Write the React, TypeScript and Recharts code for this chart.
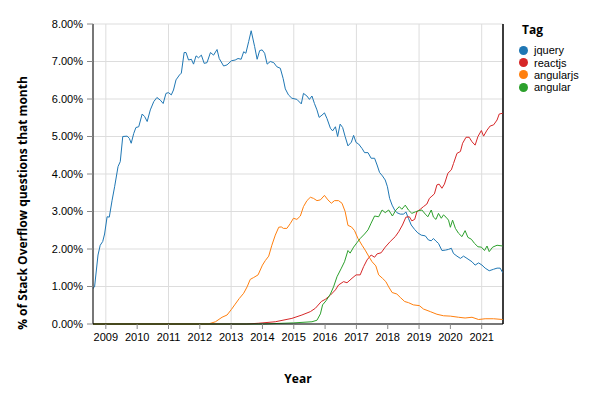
import React from 'react';
import { LineChart, Line, XAxis, YAxis, CartesianGrid, ReferenceLine } from 'recharts';

// [year, % of questions]
const jquery: [number, number][] = [
  [2008.59, 0.95], [2008.64, 0.99], [2008.75, 1.84], [2008.82, 2.1], [2008.9, 2.2], [2008.96, 2.4],
  [2009.04, 2.86], [2009.11, 2.85], [2009.2, 3.3], [2009.28, 3.66], [2009.39, 4.2], [2009.46, 4.33],
  [2009.54, 5.0], [2009.68, 5.01], [2009.75, 4.95], [2009.81, 4.82], [2009.89, 5.08], [2009.96, 5.24],
  [2010.05, 5.26], [2010.16, 5.6], [2010.24, 5.53], [2010.32, 5.4], [2010.42, 5.71], [2010.53, 5.93],
  [2010.63, 6.04], [2010.74, 5.97], [2010.83, 5.88], [2010.92, 6.15], [2011.0, 6.17], [2011.09, 6.11],
  [2011.16, 6.24], [2011.24, 6.51], [2011.35, 6.64], [2011.41, 6.69], [2011.5, 7.24], [2011.56, 7.24],
  [2011.64, 7.04], [2011.73, 7.06], [2011.8, 6.93], [2011.88, 7.15], [2011.96, 7.1], [2012.05, 7.17],
  [2012.14, 6.95], [2012.23, 6.97], [2012.34, 7.24], [2012.44, 7.17], [2012.55, 7.32], [2012.62, 7.08],
  [2012.76, 6.88], [2012.87, 6.91], [2013.01, 7.02], [2013.13, 7.04], [2013.22, 7.08], [2013.32, 7.06],
  [2013.4, 7.26], [2013.47, 7.22], [2013.56, 7.53], [2013.64, 7.82], [2013.75, 7.4], [2013.83, 7.06],
  [2013.91, 7.29], [2013.99, 7.31], [2014.07, 7.22], [2014.15, 6.93], [2014.25, 7.0], [2014.36, 6.97],
  [2014.46, 6.86], [2014.57, 6.82], [2014.66, 6.55], [2014.73, 6.27], [2014.83, 6.11], [2014.94, 6.02],
  [2015.1, 5.99], [2015.24, 5.87], [2015.31, 6.15], [2015.42, 6.08], [2015.5, 5.99], [2015.58, 6.08],
  [2015.66, 5.88], [2015.74, 5.71], [2015.81, 5.51], [2015.9, 5.57], [2015.98, 5.63], [2016.06, 5.48],
  [2016.17, 5.22], [2016.24, 5.15], [2016.33, 5.26], [2016.4, 5.0], [2016.48, 5.33], [2016.56, 5.24],
  [2016.64, 5.0], [2016.73, 4.75], [2016.84, 4.85], [2016.91, 5.03], [2016.99, 4.84], [2017.07, 4.8],
  [2017.18, 4.68], [2017.26, 4.57], [2017.37, 4.57], [2017.47, 4.42], [2017.58, 4.42], [2017.66, 4.24],
  [2017.74, 4.04], [2017.83, 3.95], [2017.92, 3.84], [2017.99, 3.66], [2018.06, 3.35], [2018.14, 3.17],
  [2018.22, 3.04], [2018.29, 2.97], [2018.4, 2.93], [2018.51, 2.93], [2018.58, 2.99], [2018.66, 2.82],
  [2018.75, 2.64], [2018.86, 2.52], [2018.96, 2.43], [2019.07, 2.37], [2019.2, 2.35], [2019.3, 2.24],
  [2019.39, 2.22], [2019.46, 2.28], [2019.54, 2.21], [2019.62, 2.15], [2019.73, 1.96], [2019.84, 1.97],
  [2019.94, 1.99], [2020.03, 2.02], [2020.1, 1.88], [2020.21, 1.81], [2020.32, 1.75], [2020.42, 1.81],
  [2020.53, 1.75], [2020.69, 1.66], [2020.79, 1.57], [2020.9, 1.63], [2021.01, 1.57], [2021.11, 1.49],
  [2021.24, 1.42], [2021.38, 1.46], [2021.49, 1.49], [2021.59, 1.49], [2021.67, 1.37],
];

const reactjs: [number, number][] = [
  [2008.59, 0], [2013.5, 0], [2013.87, 0.02], [2014.41, 0.06], [2014.94, 0.15], [2015.26, 0.24],
  [2015.53, 0.33], [2015.69, 0.42], [2015.88, 0.6], [2016.01, 0.66], [2016.17, 0.77], [2016.33, 0.91],
  [2016.43, 1.04], [2016.59, 1.13], [2016.7, 1.1], [2016.86, 1.22], [2016.99, 1.31], [2017.12, 1.31],
  [2017.23, 1.53], [2017.34, 1.71], [2017.47, 1.84], [2017.58, 1.78], [2017.66, 1.87], [2017.79, 1.9],
  [2017.92, 2.05], [2018.08, 2.2], [2018.24, 2.33], [2018.35, 2.46], [2018.47, 2.64], [2018.58, 2.85],
  [2018.69, 2.86], [2018.77, 2.75], [2018.86, 2.79], [2018.93, 2.99], [2019.04, 3.06], [2019.14, 3.13],
  [2019.25, 3.2], [2019.33, 3.35], [2019.41, 3.41], [2019.49, 3.47], [2019.57, 3.71], [2019.64, 3.73],
  [2019.73, 3.62], [2019.81, 3.73], [2019.92, 4.02], [2020.03, 4.11], [2020.1, 4.28], [2020.21, 4.55],
  [2020.32, 4.6], [2020.39, 4.82], [2020.5, 4.98], [2020.6, 4.98], [2020.69, 4.86], [2020.79, 4.77],
  [2020.88, 5.0], [2020.99, 5.16], [2021.06, 5.01], [2021.17, 5.17], [2021.27, 5.28], [2021.38, 5.31],
  [2021.49, 5.44], [2021.56, 5.6], [2021.67, 5.62],
];

const angularjs: [number, number][] = [
  [2008.59, 0], [2012.27, 0], [2012.5, 0.06], [2012.71, 0.18], [2012.87, 0.24], [2013.01, 0.39],
  [2013.13, 0.53], [2013.26, 0.68], [2013.4, 0.82], [2013.51, 0.99], [2013.61, 1.19], [2013.72, 1.24],
  [2013.86, 1.31], [2013.93, 1.44], [2014.0, 1.57], [2014.09, 1.69], [2014.2, 1.81], [2014.3, 2.1],
  [2014.41, 2.37], [2014.52, 2.58], [2014.6, 2.59], [2014.67, 2.55], [2014.78, 2.55], [2014.89, 2.68],
  [2014.99, 2.82], [2015.1, 2.79], [2015.21, 2.88], [2015.31, 3.13], [2015.42, 3.29], [2015.53, 3.38],
  [2015.63, 3.35], [2015.74, 3.29], [2015.85, 3.31], [2015.98, 3.43], [2016.09, 3.31], [2016.2, 3.22],
  [2016.3, 3.29], [2016.43, 3.29], [2016.54, 3.22], [2016.64, 3.0], [2016.73, 2.63], [2016.84, 2.59],
  [2016.94, 2.49], [2017.05, 2.28], [2017.18, 2.1], [2017.28, 1.97], [2017.39, 1.81], [2017.5, 1.66],
  [2017.62, 1.55], [2017.71, 1.31], [2017.83, 1.22], [2017.94, 1.13], [2018.03, 0.99], [2018.14, 0.84],
  [2018.29, 0.8], [2018.4, 0.71], [2018.54, 0.6], [2018.66, 0.57], [2018.82, 0.51], [2019.01, 0.49],
  [2019.14, 0.4], [2019.36, 0.33], [2019.57, 0.26], [2019.78, 0.22], [2020.0, 0.21], [2020.26, 0.18],
  [2020.47, 0.16], [2020.69, 0.18], [2020.9, 0.12], [2021.11, 0.14], [2021.38, 0.14], [2021.67, 0.12],
];

const angular: [number, number][] = [
  [2008.59, 0], [2014.0, 0], [2015.0, 0.03], [2015.58, 0.06], [2015.74, 0.1], [2015.85, 0.27],
  [2015.92, 0.51], [2016.03, 0.62], [2016.17, 0.8], [2016.27, 0.99], [2016.38, 1.26], [2016.52, 1.49],
  [2016.62, 1.66], [2016.73, 1.96], [2016.8, 1.89], [2016.91, 2.05], [2017.02, 2.17], [2017.12, 2.28],
  [2017.26, 2.4], [2017.37, 2.51], [2017.47, 2.69], [2017.58, 2.88], [2017.71, 2.86], [2017.82, 3.04],
  [2017.92, 2.97], [2018.03, 3.04], [2018.15, 2.88], [2018.26, 3.04], [2018.37, 3.13], [2018.45, 3.06],
  [2018.56, 3.17], [2018.66, 3.04], [2018.77, 2.95], [2018.88, 2.99], [2018.98, 3.02], [2019.09, 3.04],
  [2019.2, 2.93], [2019.28, 2.86], [2019.39, 3.04], [2019.46, 2.85], [2019.54, 2.79], [2019.62, 2.95],
  [2019.71, 2.82], [2019.78, 2.91], [2019.86, 2.85], [2019.94, 2.77], [2020.0, 2.58], [2020.07, 2.77],
  [2020.16, 2.55], [2020.26, 2.42], [2020.37, 2.33], [2020.47, 2.49], [2020.56, 2.31], [2020.67, 2.26],
  [2020.77, 2.15], [2020.88, 2.06], [2020.99, 2.05], [2021.09, 1.96], [2021.17, 2.08], [2021.24, 1.93],
  [2021.35, 2.05], [2021.49, 2.1], [2021.67, 2.08],
];

const yearTicks = [2009, 2010, 2011, 2012, 2013, 2014, 2015, 2016, 2017, 2018, 2019, 2020, 2021];
const pctTicks = [0, 1, 2, 3, 4, 5, 6, 7, 8];
const xDomain: [number, number] = [2008.59, 2021.68];

const series = [
  { name: 'jquery', color: '#1f77b4', points: jquery },
  { name: 'reactjs', color: '#d62728', points: reactjs },
  { name: 'angularjs', color: '#ff7f0e', points: angularjs },
  { name: 'angular', color: '#2ca02c', points: angular },
];

const tickFont = { fontFamily: 'Liberation Sans, Arial, sans-serif', fontSize: 11, fill: '#000' };
const titleFont = 'Open Sans, Noto Sans, sans-serif';

const YTitle = (props: any) => {
  const { viewBox } = props;
  const cx = viewBox.x + 22;
  const cy = 203;
  return (
    <text
      x={cx}
      y={cy}
      transform={`rotate(-90, ${cx}, ${cy})`}
      textAnchor="middle"
      dominantBaseline="central"
      fontFamily={titleFont}
      fontWeight="bold"
      fontSize={12}
      fill="#000"
    >
      % of Stack Overflow questions that month
    </text>
  );
};

export default function App() {
  return (
    <div style={{ position: 'absolute', left: 0, top: 0, width: 591, height: 395, background: '#fff' }}>
      <LineChart width={591} height={395} margin={{ top: 24, right: 88, bottom: 0, left: 0 }}>
        <CartesianGrid stroke="#ddd" />
        <XAxis
          type="number"
          dataKey="t"
          domain={xDomain}
          ticks={yearTicks}
          allowDataOverflow
          tickFormatter={(v) => String(v)}
          tick={tickFont}
          tickSize={5}
          tickMargin={4}
          tickLine={{ stroke: '#888' }}
          axisLine={{ stroke: '#000' }}
          height={71}
          label={{
            value: 'Year',
            position: 'insideBottom',
            offset: 12,
            style: { fontFamily: titleFont, fontWeight: 'bold', fontSize: 12, fill: '#000' },
          }}
        />
        <YAxis
          type="number"
          domain={[0, 8]}
          ticks={pctTicks}
          tickFormatter={(v) => v.toFixed(2) + '%'}
          tick={tickFont}
          tickSize={6}
          tickMargin={4}
          tickLine={{ stroke: '#888' }}
          axisLine={{ stroke: '#000' }}
          width={93}
          label={<YTitle />}
        />
        <ReferenceLine x={xDomain[1]} stroke="#000" strokeWidth={1.5} />
        {series.map((s) => (
          <Line
            key={s.name}
            data={s.points.map(([t, v]) => ({ t, v }))}
            dataKey="v"
            name={s.name}
            type="linear"
            stroke={s.color}
            strokeWidth={1}
            dot={false}
            activeDot={false}
            isAnimationActive={false}
          />
        ))}
      </LineChart>
      <div style={{ position: 'absolute', left: 522, top: 22, color: '#000' }}>
        <div style={{ fontFamily: titleFont, fontWeight: 'bold', fontSize: 12, lineHeight: '16px', marginBottom: 6 }}>
          Tag
        </div>
        {series.map((s) => (
          <div
            key={s.name}
            style={{
              display: 'flex',
              alignItems: 'center',
              height: 12.4,
              lineHeight: '12px',
              fontSize: 11,
              fontFamily: 'Liberation Sans, Arial, sans-serif',
            }}
          >
            <span
              style={{
                display: 'inline-block',
                width: 9,
                height: 9,
                borderRadius: '50%',
                background: s.color,
                marginRight: 6,
                marginLeft: -3,
              }}
            />
            <span>{s.name}</span>
          </div>
        ))}
      </div>
    </div>
  );
}
